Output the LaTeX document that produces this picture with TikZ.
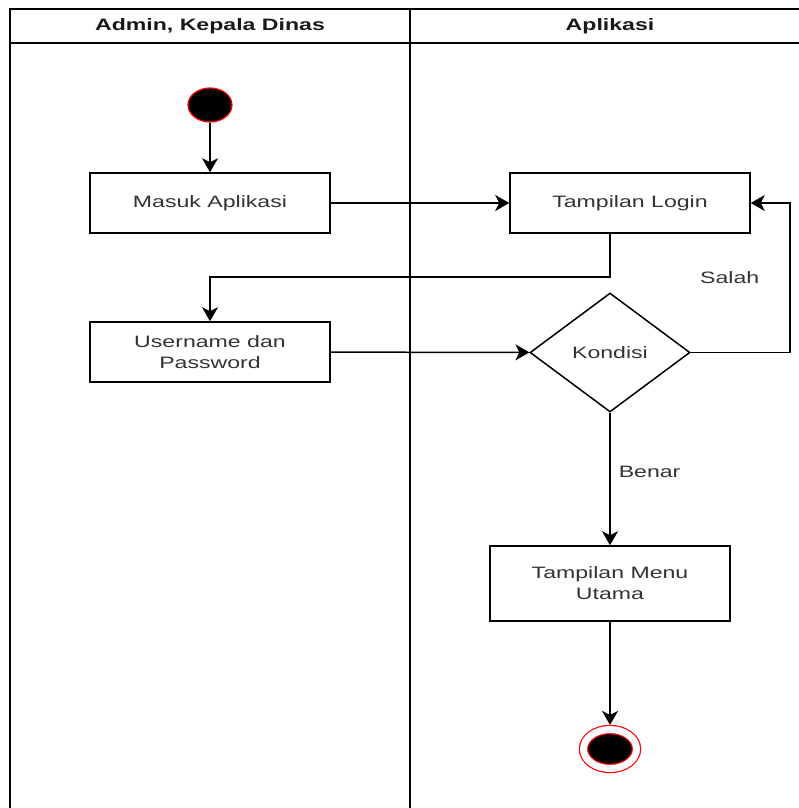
\documentclass[tikz,border=0pt]{standalone}
\usepackage{fontspec}
\usepackage{xcolor}
\usetikzlibrary{shapes.geometric, arrows.meta, positioning}
\newfontfamily\lanefont[FakeStretch=1.4]{Liberation Sans}
\definecolor{labeltext}{RGB}{51, 51, 51}

\begin{document}
\begin{tikzpicture}[x=1pt, y=-1pt, line width=1.5pt, >={Stealth[length=14pt, width=16pt, inset=4pt]},
    box/.style={rectangle, draw, minimum width=240pt, minimum height=60pt, align=center,
                inner sep=0pt, font=\lanefont\fontsize{16.5}{21}\selectfont, text=labeltext},
    cond/.style={diamond, draw, minimum width=160pt, minimum height=119pt, inner sep=0pt,
                font=\lanefont\fontsize{16.5}{21}\selectfont, text=labeltext},
    lane/.style={font=\lanefont\fontsize{16.5}{21}\selectfont\bfseries, text=black!90},
    guard/.style={font=\lanefont\fontsize{16.5}{21}\selectfont, text=labeltext, inner sep=0pt}]

    \clip (0,0) rectangle (799,808);

    % swimlanes
    \draw (10,9) rectangle (830,840);
    \draw (10,43) -- (830,43);
    \draw (410,9) -- (410,840);
    \node[lane] (laneuser) at (210,26) {Admin, Kepala Dinas};
    \node[lane] (laneapp) at (610,26) {Aplikasi};

    \node[ellipse, draw=red, line width=1.2pt, fill=black, minimum width=44pt, minimum height=34pt] (start) at (210,105) {};
    \node[box] (masuk) at (210,203) {Masuk Aplikasi};
    \node[box] (login) at (630,203) {Tampilan Login};
    \node[box] (user) at (210,352) {Username dan\\Password};
    \node[cond] (kondisi) at (610,352.5) {Kondisi};
    \node[box, minimum height=75pt] (menu) at (610,583.5) {Tampilan Menu\\Utama};
    \node[ellipse, draw=red, line width=1.2pt, fill=black, double=white, double distance=7pt,
          minimum width=53pt, minimum height=39pt] (finish) at (610,749) {};

    \coordinate (turn) at (210,277);
    \coordinate (back) at (790,203);

    \draw[->] (start) -- (masuk);
    \draw[->] (masuk) -- (login);
    \draw[->] (login.south -| kondisi.north) |- (turn) -- (user.north);
    \draw[->] (user) -- (kondisi);
    \draw[->] (kondisi.east) -| node[guard, pos=0.75, left=30pt] {Salah} (back) -- (login.east);
    \draw[->] (kondisi) -- node[guard, pos=0.45, right=8pt] {Benar} (menu);
    \draw[->, shorten >=4pt] (menu) -- (finish);
\end{tikzpicture}
\end{document}
